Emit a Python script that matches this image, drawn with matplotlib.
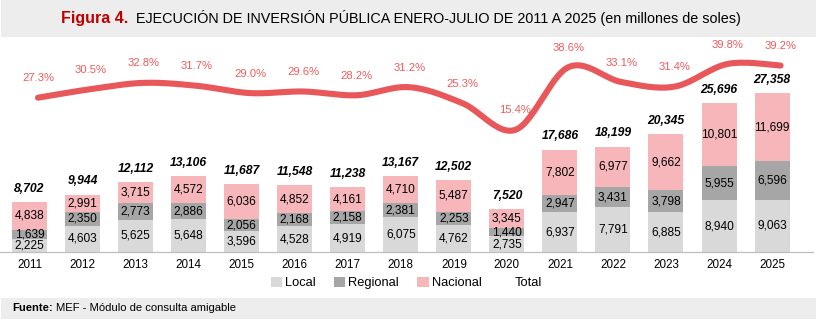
import numpy as np
import matplotlib.pyplot as plt
from matplotlib.patches import Rectangle, Patch
from matplotlib.lines import Line2D

plt.rcParams['font.family'] = ['Liberation Sans', 'DejaVu Sans']

years = [str(y) for y in range(2011, 2026)]
local = [2225, 4603, 5625, 5648, 3596, 4528, 4919, 6075, 4762, 2735, 6937, 7791, 6885, 8940, 9063]
regional = [1639, 2350, 2773, 2886, 2056, 2168, 2158, 2381, 2253, 1440, 2947, 3431, 3798, 5955, 6596]
nacional = [4838, 2991, 3715, 4572, 6036, 4852, 4161, 4710, 5487, 3345, 7802, 6977, 9662, 10801, 11699]
total = [8702, 9944, 12112, 13106, 11687, 11548, 11238, 13167, 12502, 7520, 17686, 18199, 20345, 25696, 27358]
pct = [27.3, 30.5, 32.8, 31.7, 29.0, 29.6, 28.2, 31.2, 25.3, 15.4, 38.6, 33.1, 31.4, 39.8, 39.2]

c_local = '#D9D9D9'
c_regional = '#A6A6A6'
c_nacional = '#F7B7BA'
c_line = '#E8585B'
c_pct = '#EF5A5D'
band = '#EDEDED'


def smooth(xs, ys, n=30):
    # Catmull-Rom style bezier, the same kind of smoothing office charts use
    xs = np.asarray(xs, float)
    ys = np.asarray(ys, float)
    px = np.concatenate([[xs[0]], xs, [xs[-1]]])
    py = np.concatenate([[ys[0]], ys, [ys[-1]]])
    out_x, out_y = [], []
    t = np.linspace(0, 1, n)
    for i in range(1, len(px) - 2):
        p0 = np.array([px[i], py[i]])
        p3 = np.array([px[i + 1], py[i + 1]])
        p1 = p0 + (np.array([px[i + 1], py[i + 1]]) - np.array([px[i - 1], py[i - 1]])) / 6
        p2 = p3 - (np.array([px[i + 2], py[i + 2]]) - np.array([px[i], py[i]])) / 6
        b = ((1 - t) ** 3)[:, None] * p0 + (3 * (1 - t) ** 2 * t)[:, None] * p1 \
            + (3 * (1 - t) * t ** 2)[:, None] * p2 + (t ** 3)[:, None] * p3
        out_x.extend(b[:, 0])
        out_y.extend(b[:, 1])
    return np.array(out_x), np.array(out_y)


W, H = 817, 321
fig = plt.figure(figsize=(W / 100, H / 100), dpi=100)
fig.patch.set_facecolor('white')

# grey bands for title and source
fig.patches.append(Rectangle((1 / W, 1 - 37 / H), 815 / W, 37 / H, transform=fig.transFigure,
                             facecolor=band, edgecolor='none', zorder=0))
fig.patches.append(Rectangle((1 / W, 2 / H), 815 / W, 21 / H, transform=fig.transFigure,
                             facecolor=band, edgecolor='none', zorder=0))

ax = fig.add_axes([0, 1 - 252.3 / H, 813 / W, 212.3 / H])
x = np.arange(len(years))
bw = 0.66
ax.bar(x, local, bw, color=c_local, zorder=2)
ax.bar(x, regional, bw, bottom=local, color=c_regional, zorder=2)
bottom2 = np.array(local) + np.array(regional)
ax.bar(x, nacional, bw, bottom=bottom2, color=c_nacional, zorder=2)

fs_seg = 8.6
for i in range(len(years)):
    ax.text(x[i], local[i] / 2, f'{local[i]:,}', ha='center', va='center', fontsize=fs_seg, zorder=3)
    ax.text(x[i], local[i] + regional[i] / 2, f'{regional[i]:,}', ha='center', va='center',
            fontsize=fs_seg, zorder=3)
    ax.text(x[i], bottom2[i] + nacional[i] / 2, f'{nacional[i]:,}', ha='center', va='center',
            fontsize=fs_seg, zorder=3)
    ax.annotate(f'{total[i]:,}', (x[i], bottom2[i] + nacional[i]), xytext=(0, 9.4),
                textcoords='offset points', ha='center', va='center', fontsize=8.7,
                fontweight='bold', fontstyle='italic', zorder=3)

ax.set_xlim((0 - 29.5) / 53.04, (813 - 29.5) / 53.04)
ax.set_ylim(0, 36528)
ax.set_xticks(x)
ax.set_xticklabels(years, fontsize=8.4)
ax.tick_params(axis='x', length=0, pad=4.5)
ax.set_yticks([])
for s in ['top', 'left', 'right']:
    ax.spines[s].set_visible(False)
ax.spines['bottom'].set_color('#BFBFBF')
ax.spines['bottom'].set_linewidth(0.9)
ax.patch.set_alpha(0)

ax2 = ax.twinx()
ax2.set_ylim(-29.96, 48.67)
xl = x + 0.16
sx, sy = smooth(xl, pct)
ax2.plot(sx, sy, color=c_line, lw=4.4, solid_capstyle='round', zorder=4)
for i in range(len(years)):
    ax2.annotate(f'{pct[i]:.1f}%', (xl[i], pct[i]), xytext=(0, 14),
                 textcoords='offset points', ha='center', va='center', fontsize=8.1,
                 color=c_pct)
ax2.set_yticks([])
for s in ax2.spines.values():
    s.set_visible(False)

handles = [Patch(facecolor=c_local), Patch(facecolor=c_regional), Patch(facecolor=c_nacional),
           Line2D([], [], color='none')]
fig.legend(handles, ['Local', 'Regional', 'Nacional', 'Total'], loc='center',
           bbox_to_anchor=(406 / W, 1 - 283 / H), ncol=4, frameon=False, fontsize=9.3,
           handlelength=0.9, handleheight=0.9, handletextpad=0.23, columnspacing=1.4,
           borderpad=0)

# title and source lines, each in two styles
renderer = fig.canvas.get_renderer()
t1 = fig.text(61 / W, 1 - 18 / H, 'Figura 4.', color='#C00000', fontweight='bold',
              fontsize=11.5, va='center')
ext = t1.get_window_extent(renderer)
t2 = fig.text((ext.x1 + 8) / W, 1 - 18 / H,
              'EJECUCIÓN DE INVERSIÓN PÚBLICA ENERO-JULIO DE 2011 A 2025 (en millones de soles)',
              fontsize=10, va='center')
w2 = t2.get_window_extent(renderer).width
t2.set_fontsize(10 * (742 - ext.x1 - 8) / w2)

f1 = fig.text(12 / W, 1 - 308 / H, 'Fuente:', fontweight='bold', fontsize=8.1, va='center')
ext = f1.get_window_extent(renderer)
fig.text((ext.x1 + 3) / W, 1 - 308 / H, 'MEF - Módulo de consulta amigable', fontsize=8.1,
         va='center')

fig.savefig('out.png', dpi=100)
